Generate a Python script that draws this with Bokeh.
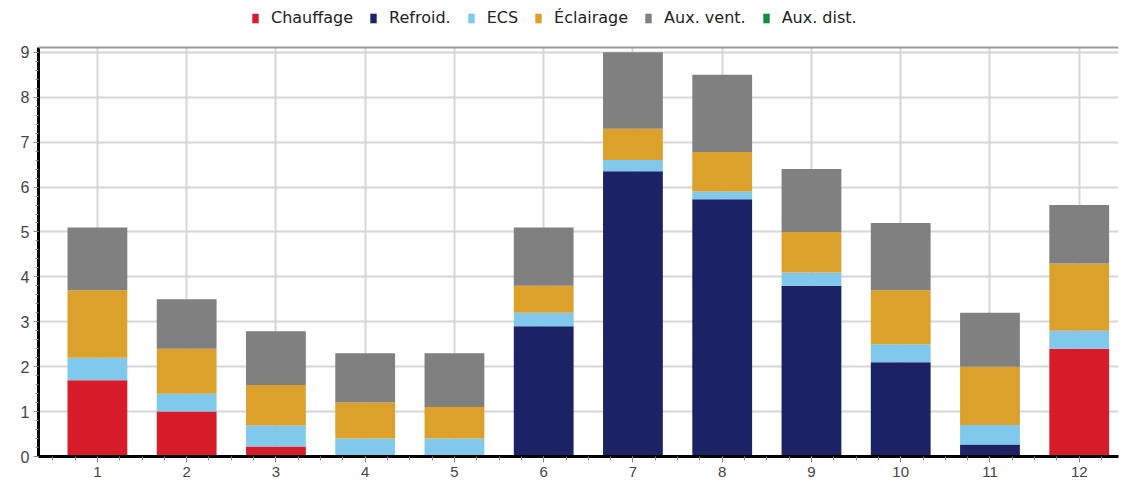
from bokeh.plotting import figure
from bokeh.models import (ColumnDataSource, Legend, SingleIntervalTicker, Range1d,
                          BoxAnnotation, Span)
from bokeh.embed import file_html
from bokeh.resources import INLINE

months = [1, 2, 3, 4, 5, 6, 7, 8, 9, 10, 11, 12]
series = ["Chauffage", "Refroid.", "ECS", "Éclairage", "Aux. vent.", "Aux. dist."]
chauffage = [1.7, 1.0, 0.22, 0.0, 0.0, 0.0, 0.0, 0.0, 0.0, 0.0, 0.0, 2.4]
refroid = [0.0, 0.0, 0.0, 0.0, 0.0, 2.9, 6.35, 5.73, 3.8, 2.1, 0.27, 0.0]
ecs = [0.5, 0.4, 0.47, 0.4, 0.4, 0.3, 0.25, 0.17, 0.3, 0.4, 0.43, 0.4]
eclairage = [1.5, 1.0, 0.9, 0.8, 0.7, 0.6, 0.7, 0.88, 0.9, 1.2, 1.3, 1.5]
aux_vent = [1.4, 1.1, 1.2, 1.1, 1.2, 1.3, 1.7, 1.72, 1.4, 1.5, 1.2, 1.3]
aux_dist = [0.0] * 12
colors = ["#d91c2a", "#1b2266", "#80c8ec", "#dba12b", "#808080", "#148a3c"]

Y_TOP = 9.11

source = ColumnDataSource(dict(x=months, s0=chauffage, s1=refroid, s2=ecs,
                               s3=eclairage, s4=aux_vent, s5=aux_dist))

p = figure(width=1120, height=485, output_backend="svg", toolbar_location=None,
           x_range=Range1d(0.34, 12.44), y_range=Range1d(0, 10.11),
           min_border_left=38, min_border_right=2, min_border_top=2,
           min_border_bottom=29, background_fill_color="white",
           border_fill_color="white")

renderers = p.vbar_stack(["s0", "s1", "s2", "s3", "s4", "s5"], x="x", width=0.67,
                         color=colors, source=source, line_width=0)

# blank area above the plotting region, used for the legend
p.add_layout(BoxAnnotation(bottom=Y_TOP, fill_color="white", fill_alpha=1,
                           line_color=None))
p.add_layout(Span(location=Y_TOP, dimension="width", line_color="#999999",
                  line_width=2))

legend = Legend(items=[(name, [r]) for name, r in zip(series, renderers)],
                orientation="horizontal", location=(213, 429),
                label_text_font="DejaVu Sans", label_text_font_size="16px",
                label_text_color="#222222", glyph_width=8, glyph_height=12,
                label_standoff=12, spacing=16, padding=2, margin=0,
                border_line_color=None, background_fill_alpha=0)
p.add_layout(legend, "center")

p.xaxis.ticker = SingleIntervalTicker(interval=1, num_minor_ticks=4)
p.yaxis.ticker = SingleIntervalTicker(interval=1, num_minor_ticks=5)
p.yaxis.bounds = (0, Y_TOP)

for ax in (p.xaxis[0], p.yaxis[0]):
    ax.axis_line_color = "black"
    ax.axis_line_width = 3
    ax.major_tick_line_color = "#888888"
    ax.minor_tick_line_color = "#888888"
    ax.major_tick_in = 0
    ax.minor_tick_in = 0
    ax.major_label_text_font = "Liberation Sans"
    ax.major_label_text_color = "#444444"

p.xaxis.major_tick_out = 6
p.xaxis.minor_tick_out = 4
p.xaxis.major_label_text_font_size = "15px"
p.xaxis.major_label_standoff = 4
p.yaxis.major_tick_out = 5
p.yaxis.minor_tick_out = 3
p.yaxis.major_label_text_font_size = "16px"
p.yaxis.major_label_standoff = 4

p.xgrid.grid_line_color = "#d6d6d6"
p.ygrid.grid_line_color = "#d6d6d6"
p.xgrid.grid_line_width = 2
p.ygrid.grid_line_width = 2

p.outline_line_color = None

open("out.html", "w").write(file_html(p, INLINE))
